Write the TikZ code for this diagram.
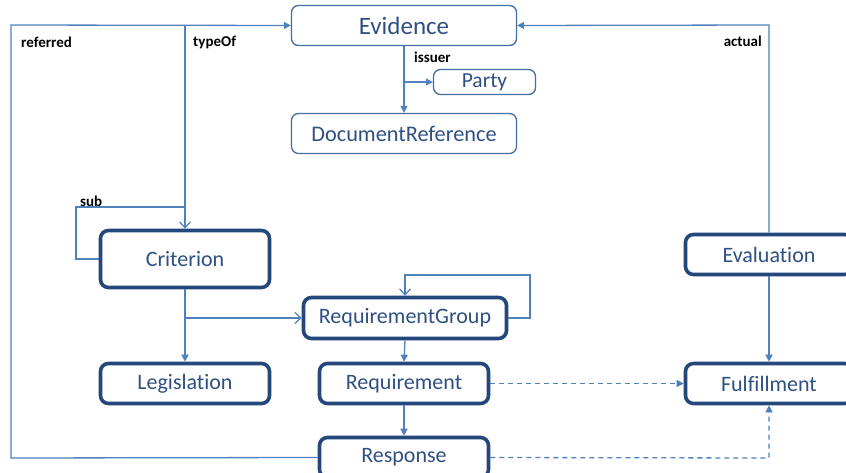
\documentclass[tikz,border=0pt]{standalone}
\usepackage{fontspec}
\setmainfont{Carlito}[Ligatures={NoCommon}]
\usetikzlibrary{arrows.meta}
\definecolor{lineblue}{RGB}{79,129,189}
\definecolor{darkblue}{RGB}{37,72,124}
\definecolor{textblue}{RGB}{47,80,130}
\tikzset{
  x=1pt, y=-1pt,
  thinbox/.style={draw=lineblue!85!black, line width=1.3pt, rounded corners=7pt, fill=white,
    text=textblue, inner sep=0pt, font=\fontsize{22.3}{25}\selectfont},
  thickbox/.style={draw=darkblue, line width=3.6pt, rounded corners=8pt, fill=white,
    text=textblue, inner sep=0pt, font=\fontsize{22}{25}\selectfont},
  conn/.style={draw=lineblue, line width=1.3pt},
  filled/.style={conn, -{Triangle[length=7pt,width=7pt]}},
  openarr/.style={conn, -{Straight Barb[length=6pt,width=11pt,line width=1.2pt]}},
  dashconn/.style={conn, dashed, dash pattern=on 5pt off 4pt, -{Triangle[length=7pt,width=7pt]}},
  lbl/.style={font=\fontsize{15}{17}\selectfont\bfseries, text=black, inner sep=0pt, anchor=west},
}
\begin{document}
\begin{tikzpicture}
\useasboundingbox (0,0) rectangle (846,473);
\clip (0,0) rectangle (846,473);
\fill[white] (0,0) rectangle (846,473);

% nodes
\node[thinbox, minimum width=225pt, minimum height=40pt, font=\fontsize{25}{29}\selectfont] (evidence) at (404,25.5) {Evidence};
\node[thinbox, minimum width=102pt, minimum height=25pt, font=\fontsize{21.5}{24}\selectfont] (party) at (484.5,82) {Party};
\node[thinbox, minimum width=225pt, minimum height=40pt] (docref) at (404,133.5) {DocumentReference};
\node[thickbox, minimum width=169pt, minimum height=57pt] (criterion) at (185,259) {Criterion};
\node[thickbox, minimum width=203pt, minimum height=41pt] (rg) at (405,318) {RequirementGroup};
\node[thickbox, minimum width=169pt, minimum height=40pt] (legislation) at (185,383.5) {Legislation};
\node[thickbox, minimum width=169pt, minimum height=40pt] (requirement) at (404,383.5) {Requirement};
\node[thickbox, minimum width=169pt, minimum height=40pt] (response) at (404,457.5) {Response};
\node[thickbox, minimum width=167pt, minimum height=40pt] (evaluation) at (769,254.5) {Evaluation};
\node[thickbox, minimum width=167pt, minimum height=40pt] (fulfillment) at (769,383.5) {Fulfillment};

% coordinates
\coordinate (refL) at (11,25);
\coordinate (refB) at (11,458);
\coordinate (typeTop) at (185,25);
\coordinate (subTop) at (76,207);
\coordinate (subJoin) at (185,207);
\coordinate (subBot) at (76,259);
\coordinate (actTop) at (769,25);
\coordinate (issJ) at (404,82);
\coordinate (critJ) at (185,318);
\coordinate (rgR) at (530,318);
\coordinate (rgTR) at (530,275);
\coordinate (rgTL) at (405,275);
\coordinate (respR) at (769,458);

% referred
\draw[filled] (response.west) -- (refB) -- (refL) -- (evidence.west);
% typeOf
\draw[openarr] (typeTop) -- (criterion.north);
% sub
\draw[conn] (criterion.west) -- (subBot) -- (subTop) -- (subJoin);
% actual
\draw[filled] (evaluation.north) -- (actTop) -- (evidence.east);
% issuer
\draw[filled] (evidence.south) -- (docref.north);
\draw[filled] (issJ) -- (party.west);
% criterion
\draw[filled] (criterion.south) -- (legislation.north);
\draw[openarr] (critJ) -- (rg.west);
% rg self loop
\draw[openarr] (rg.east) -- (rgR) -- (rgTR) -- (rgTL) -- (rg.north);
% rg -> requirement -> response
\draw[filled] (rg.south) -- (requirement.north);
\draw[filled] (requirement.south) -- (response.north);
% evaluation -> fulfillment
\draw[filled] (evaluation.south) -- (fulfillment.north);
% dashed
\draw[dashconn] (requirement.east) -- (fulfillment.west);
\draw[dashconn] (response.east) -- (respR) -- (fulfillment.south);

% labels
\node[lbl] (lref) at (21,42) {referred};
\node[lbl] (ltype) at (193,42) {typeOf};
\node[lbl] (lsub) at (80,201) {sub};
\node[lbl] (liss) at (414,57) {issuer};
\node[lbl, anchor=east] (lact) at (762,41) {actual};
\end{tikzpicture}
\end{document}
